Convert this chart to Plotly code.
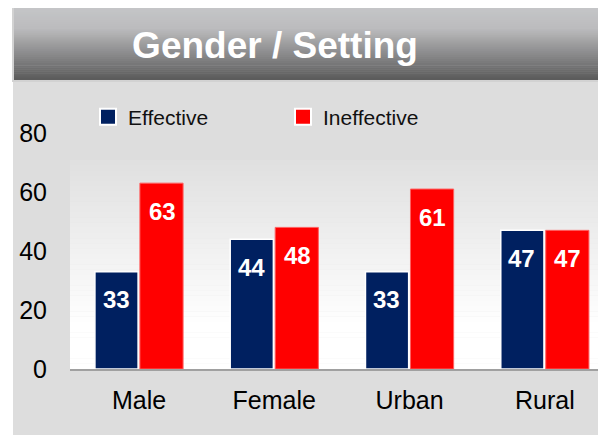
import plotly.graph_objects as go

categories = ["Male", "Female", "Urban", "Rural"]
effective = [33, 44, 33, 47]
ineffective = [63, 48, 61, 47]
series_names = ["Effective", "Ineffective"]
y_ticks = [0, 20, 40, 60, 80]
title_text = "Gender / Setting"

NAVY = "#002060"
RED = "#ff0000"
FONT = "Liberation Sans, Arial, sans-serif"

# page places the figure with an 8px body margin; work in window pixels
OFF = 8
W, H = 606 - OFF, 435 - OFF
PLOT_L, PLOT_T, PLOT_B = 70, 133, 369  # window px
L = PLOT_L - OFF
T = PLOT_T - OFF
B = H - (PLOT_B - OFF)
R = 0
PW = W - L - R
PH = H - T - B


def px_x(px):
    return (px - PLOT_L) / PW


def px_y(py):
    return (PLOT_B - py) / PH


def lerp(c1, c2, t):
    return "#%02x%02x%02x" % tuple(int(round(a + (b - a) * t)) for a, b in zip(c1, c2))


shapes = []
# outer gray panel
shapes.append(dict(type="rect", xref="paper", yref="paper", layer="below",
                   x0=px_x(13), x1=px_x(610), y0=px_y(440), y1=px_y(81),
                   fillcolor="#dddddd", line=dict(width=0)))
# plot area gradient (gray at top -> white at bottom)
n = 40
top_py, bot_py = 160, 369
for i in range(n):
    y0p = top_py + (bot_py - top_py) * i / n
    y1p = top_py + (bot_py - top_py) * (i + 1) / n
    t = min(1.0, (i + 0.5) / n / 0.8)
    shapes.append(dict(type="rect", xref="paper", yref="paper", layer="below",
                       x0=px_x(70), x1=px_x(610), y0=px_y(y1p), y1=px_y(y0p) + 0.001,
                       fillcolor=lerp((224, 224, 224), (255, 255, 255), t), line=dict(width=0)))
# title banner border
shapes.append(dict(type="rect", xref="paper", yref="paper", layer="below",
                   x0=px_x(12), x1=px_x(610), y0=px_y(82), y1=px_y(4),
                   fillcolor="#d2d2d2", line=dict(width=0)))
# title banner gradient
n2 = 36
btop, bbot = 6, 80
for i in range(n2):
    y0p = btop + (bbot - btop) * i / n2
    y1p = btop + (bbot - btop) * (i + 1) / n2
    t = (i + 0.5) / n2
    if t < 0.3:
        c = lerp((197, 198, 200), (188, 188, 190), t / 0.3)
    else:
        c = lerp((188, 188, 190), (90, 90, 90), (t - 0.3) / 0.7)
    shapes.append(dict(type="rect", xref="paper", yref="paper", layer="below",
                       x0=px_x(14), x1=px_x(610), y0=px_y(y1p), y1=px_y(y0p) + 0.002,
                       fillcolor=c, line=dict(width=0)))

fig = go.Figure()
fig.add_trace(go.Bar(x=categories, y=effective, name=series_names[0],
                     marker=dict(color=NAVY, line=dict(color="white", width=1.5)),
                     showlegend=False, hoverinfo="skip"))
fig.add_trace(go.Bar(x=categories, y=ineffective, name=series_names[1],
                     marker=dict(color=RED, line=dict(color="#ff6060", width=1)),
                     showlegend=False, hoverinfo="skip"))
# legend entries
for name, col in zip(series_names, [NAVY, RED]):
    fig.add_trace(go.Scatter(x=[None], y=[None], mode="markers", name=name,
                             marker=dict(symbol="square", size=16, color=col, line=dict(color="white", width=2))))

annotations = []
for vals, shift in [(effective, -23), (ineffective, 23)]:
    for c, v in zip(categories, vals):
        annotations.append(dict(x=c, y=v, xref="x", yref="y", text=f"<b>{v}</b>", showarrow=False,
                                xshift=shift, yshift=-28, yanchor="middle",
                                font=dict(family=FONT, size=24, color="white")))

fig.update_layout(
    width=W, height=H,
    margin=dict(l=L, r=R, t=T, b=B, pad=0, autoexpand=False),
    paper_bgcolor="white",
    plot_bgcolor="rgba(0,0,0,0)",
    barmode="group",
    bargap=0.335,
    bargroupgap=0.04,
    shapes=shapes,
    annotations=annotations,
    title=dict(text=f"<b>{title_text}</b>", x=(275 - OFF) / W, xanchor="center",
               y=1 - (45 - OFF) / H, yanchor="middle",
               font=dict(family=FONT, size=37, color="white")),
    legend=dict(orientation="h", x=px_x(88), y=px_y(117), xanchor="left", yanchor="middle",
                bgcolor="rgba(0,0,0,0)", font=dict(family=FONT, size=21, color="#111111"),
                entrywidth=150, entrywidthmode="pixels", itemsizing="trace"),
    xaxis=dict(range=[-0.51, 3.452], showline=True, linecolor="#a0a0a0", linewidth=2, ticks="",
               showgrid=False, automargin=False,
               tickfont=dict(family=FONT, size=25, color="black"), ticklabelstandoff=8),
    yaxis=dict(range=[0, 80], tickvals=y_ticks, showgrid=False, zeroline=False, showline=False, ticks="",
               automargin=False, tickfont=dict(family=FONT, size=25, color="black"), ticklabelstandoff=22),
    showlegend=True,
)

fig.write_html("out.html")
